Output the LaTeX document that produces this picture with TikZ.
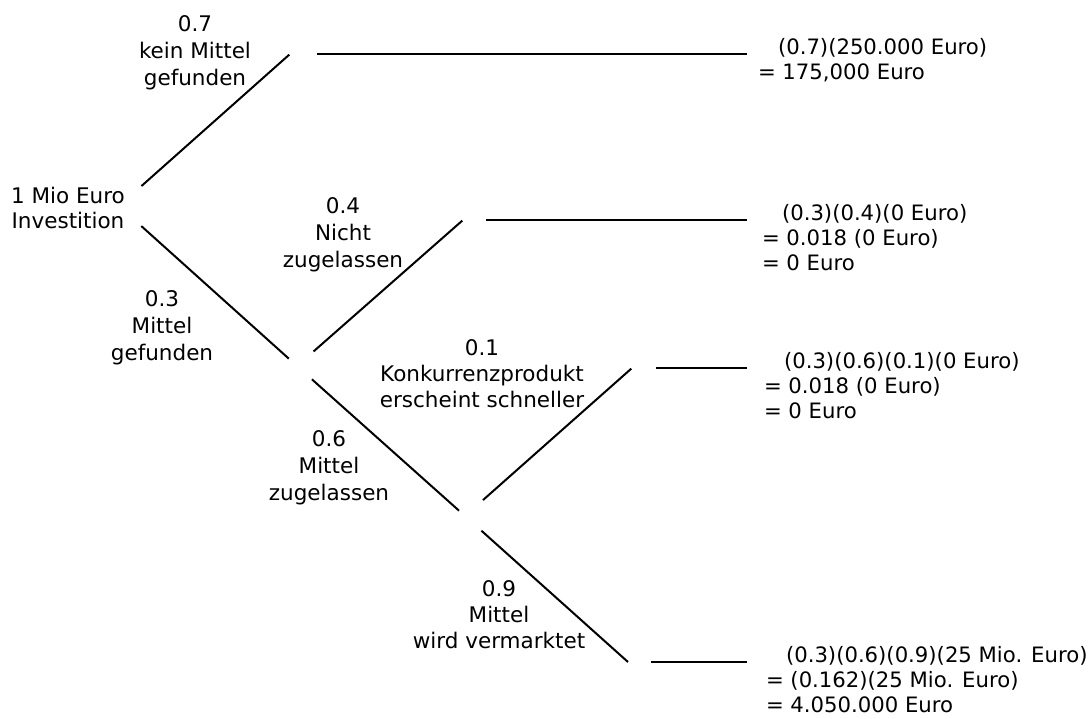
\documentclass[tikz,border=0pt]{standalone}
\usepackage{fontspec}
\setmainfont{DejaVu Sans}
\begin{document}
\begin{tikzpicture}[x=1pt, y=-1pt, line width=2pt,
  prob/.style={anchor=north, align=center, inner sep=0pt, font=\fontsize{21.5}{27}\selectfont},
  payoff/.style={anchor=north west, align=left, inner sep=0pt, font=\fontsize{21.2}{25}\selectfont}]
  \useasboundingbox (0,0) rectangle (1090,718);
  % junctions of the tree
  \coordinate (start) at (119,206);
  \coordinate (kein) at (290,54);
  \coordinate (gef) at (297,366);
  \coordinate (nicht) at (463,220);
  \coordinate (zug) at (465,516);
  \coordinate (konk) at (632,368);
  \coordinate (verm) at (628,662);
  \coordinate (end1) at (747,54);
  \coordinate (end2) at (747,220);
  \coordinate (end3) at (747,368);
  \coordinate (end4) at (747,662);
  % branches
  \draw[shorten <=30pt, shorten >=1pt] (start) -- (kein);
  \draw[shorten <=30pt, shorten >=11pt] (start) -- (gef);
  \draw[shorten <=22pt, shorten >=1pt] (gef) -- (nicht);
  \draw[shorten <=20pt, shorten >=8pt] (gef) -- (zug);
  \draw[shorten <=24pt, shorten >=1pt] (zug) -- (konk);
  \draw[shorten <=22pt] (zug) -- (verm);
  \draw[shorten <=27pt] (kein) -- (end1);
  \draw[shorten <=23pt] (nicht) -- (end2);
  \draw[shorten <=24pt] (konk) -- (end3);
  \draw[shorten <=23pt] (verm) -- (end4);
  % labels
  \node[prob, font=\fontsize{21.5}{25}\selectfont] (invest) at (68,186) {1 Mio Euro\\Investition};
  \node[prob] (pkein) at (195,15) {0.7\\kein Mittel\\gefunden};
  \node[prob] (pgef) at (162,290) {0.3\\Mittel\\gefunden};
  \node[prob] (pnicht) at (343,197) {0.4\\Nicht\\zugelassen};
  \node[prob] (pzug) at (329,430) {0.6\\Mittel\\zugelassen};
  \node[prob, font=\fontsize{21.5}{26}\selectfont] (pkonk) at (482,339) {0.1\\Konkurrenzprodukt\\erscheint schneller};
  \node[prob, font=\fontsize{21.5}{26}\selectfont] (pverm) at (499,580) {0.9\\Mittel\\wird vermarktet};
  % payoffs
  \node[payoff] (pay1) at (757,37.5) {\hspace*{20pt}(0.7)(250.000 Euro)\\= 175,000 Euro};
  \node[payoff] (pay2) at (761,203.5) {\hspace*{20pt}(0.3)(0.4)(0 Euro)\\= 0.018 (0 Euro)\\= 0 Euro};
  \node[payoff] (pay3) at (763,351.5) {\hspace*{20pt}(0.3)(0.6)(0.1)(0 Euro)\\= 0.018 (0 Euro)\\= 0 Euro};
  \node[payoff] (pay4) at (765,645.5) {\hspace*{20pt}(0.3)(0.6)(0.9)(25 Mio. Euro)\\= (0.162)(25 Mio. Euro)\\= 4.050.000 Euro};
\end{tikzpicture}
\end{document}
